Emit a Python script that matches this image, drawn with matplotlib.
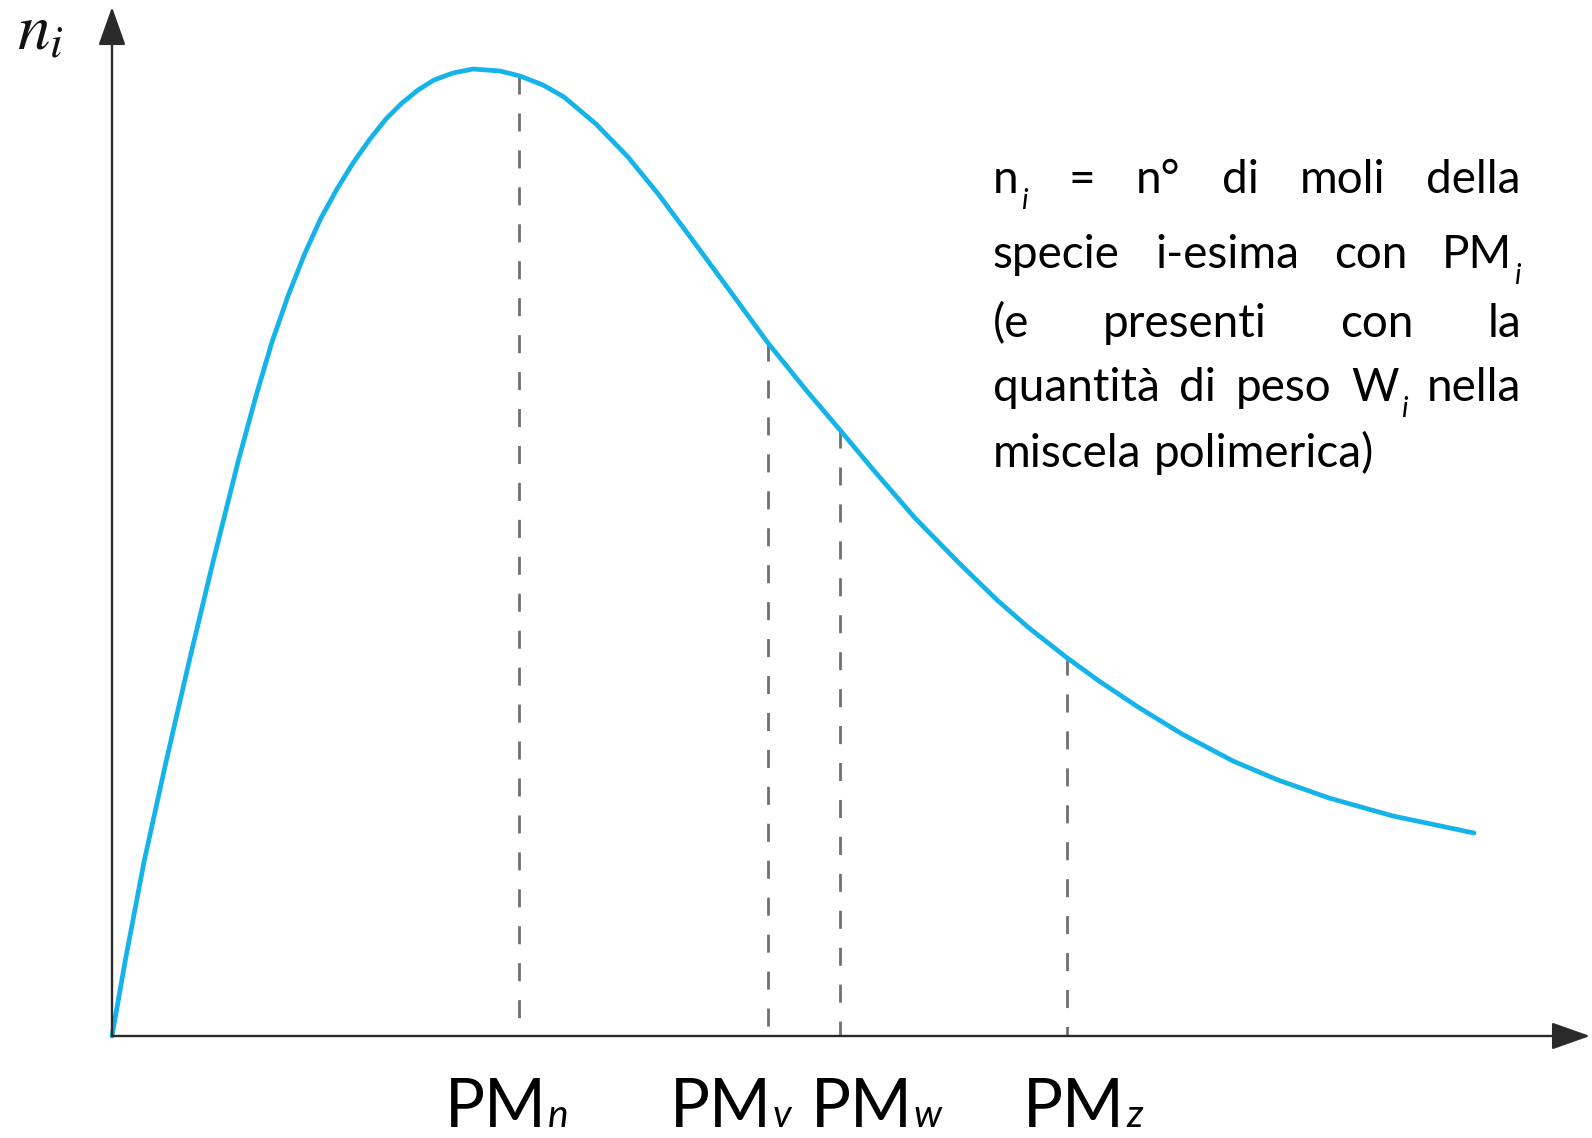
import matplotlib
matplotlib.use("Agg")
import matplotlib.pyplot as plt
from matplotlib.transforms import IdentityTransform, blended_transform_factory

# ---------------- data (arbitrary units) ----------------
curve_x = [0, 1.3, 3.2, 5.4, 7.7, 10.1, 12.6, 14.4, 16.0, 17.6, 19.3, 20.9, 22.5,
           24.1, 25.8, 27.4, 29.0, 30.6, 32.2, 34.1, 36.1, 38.8, 40.8, 43.1, 45.2,
           48.4, 51.6, 54.7, 57.9, 61.8, 65.6, 69.4, 72.8, 76.4, 80.3, 84.7, 88.5,
           91.7, 95.4, 98.7, 102.6, 107.0, 112.1, 116.6, 121.7, 128.1, 136.2]
curve_y = [0, 7.4, 17.4, 27.4, 37.4, 47.4, 57.4, 64.0, 69.4, 74.0, 78.3, 81.8, 84.7,
           87.3, 89.7, 91.7, 93.3, 94.6, 95.6, 96.3, 96.7, 96.5, 96.0, 95.1, 93.9,
           91.2, 87.9, 84.1, 79.8, 74.5, 69.3, 64.6, 60.6, 56.3, 51.8, 47.3, 43.6,
           40.8, 37.9, 35.5, 32.9, 30.2, 27.5, 25.6, 23.8, 22.0, 20.3]

pm_names = ["PM", "PM", "PM", "PM"]
pm_subs = ["n", "v", "w", "z"]
pm_x = [40.7, 65.6, 72.8, 95.5]
pm_y = [96.0, 69.3, 60.6, 37.9]
pm_label_x = [33.3, 55.8, 69.9, 91.1]

y_label = r"$n_i$"
note_lines = [
    ["n_i", "=", "n°", "di", "moli", "della"],
    ["specie", "i-esima", "con", "PM_i"],
    ["(e", "presenti", "con", "la"],
    ["quantità", "di", "peso", "W_i", "nella"],
    ["miscela", "polimerica)"],
]

# ---------------- figure ----------------
W, H = 1592, 1138
fig = plt.figure(figsize=(W / 100, H / 100), dpi=100)
fig.patch.set_facecolor("white")
ax = fig.add_axes([112 / W, (H - 1036) / H, 1478 / W, 1029 / H])
ax.set_xlim(0, 147.8)
ax.set_ylim(0, 102.9)
ax.axis("off")

# curve
ax.plot(curve_x, curve_y, color="#14b3ea", lw=3.4, solid_joinstyle="round",
        solid_capstyle="round", zorder=3, clip_on=False, antialiased=True)

# dashed drop lines
for x, y in zip(pm_x, pm_y):
    ax.plot([x, x], [y, 0], color="#707070", lw=2.0, dashes=(6.5, 6.8), zorder=2)

# axes with arrows
arrow_kw = dict(arrowstyle="-|>,head_length=2.4,head_width=0.85", color="#2a2a2a",
                lw=1.7, shrinkA=0, shrinkB=0, mutation_scale=10)
ax.annotate("", xy=(1, 0), xytext=(0, 0), xycoords="axes fraction",
            textcoords="axes fraction", arrowprops=arrow_kw, annotation_clip=False)
ax.annotate("", xy=(0, 1), xytext=(0, 0), xycoords="axes fraction",
            textcoords="axes fraction", arrowprops=arrow_kw, annotation_clip=False)

PIX = IdentityTransform()
renderer = fig.canvas.get_renderer()

# y label
fig.text(17, H - 50, y_label, transform=PIX, fontsize=47, math_fontfamily="stix",
         ha="left", va="baseline", color="#111111")

# PM labels
LAB_BASE = 1127
lab_tr = blended_transform_factory(ax.transData, PIX)
for name, sub, lx in zip(pm_names, pm_subs, pm_label_x):
    t = ax.text(lx, H - LAB_BASE, name, transform=lab_tr, fontsize=48, family="Lato",
                ha="left", va="baseline", color="black")
    bb = t.get_window_extent(renderer)
    fig.text(bb.x1 + 1, H - LAB_BASE, sub, transform=PIX, fontsize=28, family="Lato",
             style="italic", ha="left", va="baseline", color="black")

# justified note text
FS = 33
LEFT, RIGHT = 993, 1521
baselines = [193, 268, 337, 401, 467]


def build_word(word):
    parts = []
    w = 0.0
    if "_" in word:
        base, sub = word.split("_", 1)
        runs = [(base, False), (sub, True)]
    else:
        runs = [(word, False)]
    for txt, is_sub in runs:
        if is_sub:
            w += 2
            t = fig.text(0, 0, txt, transform=PIX, fontsize=FS * 0.62, family="Lato",
                         style="italic", ha="left", va="baseline", color="black")
            dy = -16
        else:
            t = fig.text(0, 0, txt, transform=PIX, fontsize=FS, family="Lato",
                         ha="left", va="baseline", color="black")
            dy = 0
        parts.append((t, w, dy))
        w += t.get_window_extent(renderer).width
    return parts, w


for i, (words, base) in enumerate(zip(note_lines, baselines)):
    built = [build_word(wd) for wd in words]
    total = sum(b[1] for b in built)
    last = i == len(note_lines) - 1
    gap = 12 if last else (RIGHT - LEFT - total) / (len(words) - 1)
    x = LEFT
    y = H - base
    for parts, w in built:
        for t, off, dy in parts:
            t.set_position((x + off, y + dy))
        x += w + gap

fig.savefig("out.png", dpi=100, facecolor="white")
